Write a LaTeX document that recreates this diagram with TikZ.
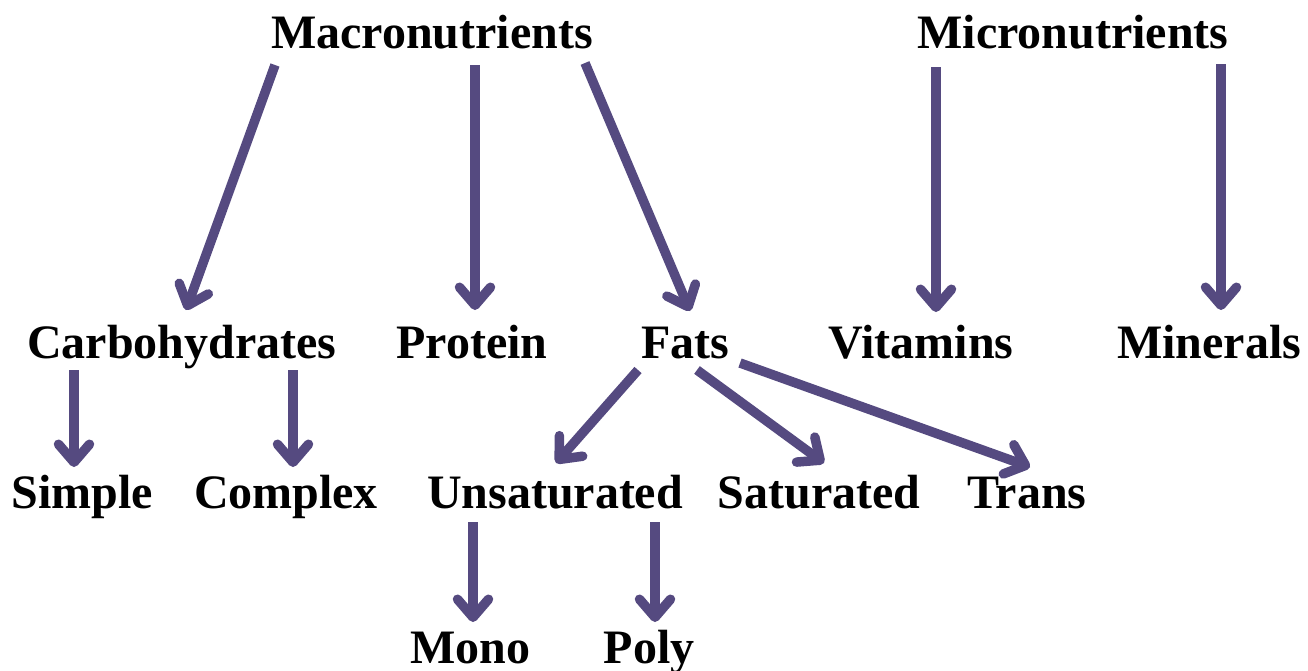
\documentclass[tikz,border=0pt]{standalone}
\usepackage{fontspec}
\setmainfont{Liberation Serif}
\usetikzlibrary{arrows.meta}
\definecolor{nutri}{RGB}{85,74,128}
\begin{document}
\begin{tikzpicture}[x=1pt, y=-1pt,
    item/.style={anchor=base, inner sep=0pt, font=\fontsize{48}{50}\selectfont\bfseries},
    link/.style={draw=nutri, line width=9.5pt, -{Straight Barb[round, length=18pt, width=31pt]}}]
  \useasboundingbox (0,0) rectangle (1308,670);
  \foreach \name/\txt/\x/\y in {macro/Macronutrients/432/48, micro/Micronutrients/1073/48,
      carb/Carbohydrates/182/358, protein/Protein/472/358, fats/Fats/685/358,
      vit/Vitamins/921/358, minerals/Minerals/1209/358,
      simple/Simple/82/508, complex/Complex/286/508, unsat/Unsaturated/555/508,
      sat/Saturated/819/508, trans/Trans/1027/508,
      mono/Mono/470/663, poly/Poly/649/663}
    \node[item] (\name) at (\x,\y) {\txt};
  \foreach \a/\ax/\ay/\b/\bx/\by in {macro/-157/17/carb/4/-48, macro/43/17/protein/3/-48,
      macro/153/15/fats/5/-47, micro/-137/19/vit/15/-46, micro/148/16/minerals/12/-48,
      carb/-108/12/simple/-8/-41, carb/111/12/complex/7/-41,
      fats/-47/12/unsat/1/-45, fats/12/12/sat/5/-45, fats/55/5/trans/3/-41,
      unsat/-82/14/mono/3/-41, unsat/100/14/poly/6/-41}
    \draw[link] ([shift={(\ax,\ay)}]\a.base) -- ([shift={(\bx,\by)}]\b.base);
\end{tikzpicture}
\end{document}
